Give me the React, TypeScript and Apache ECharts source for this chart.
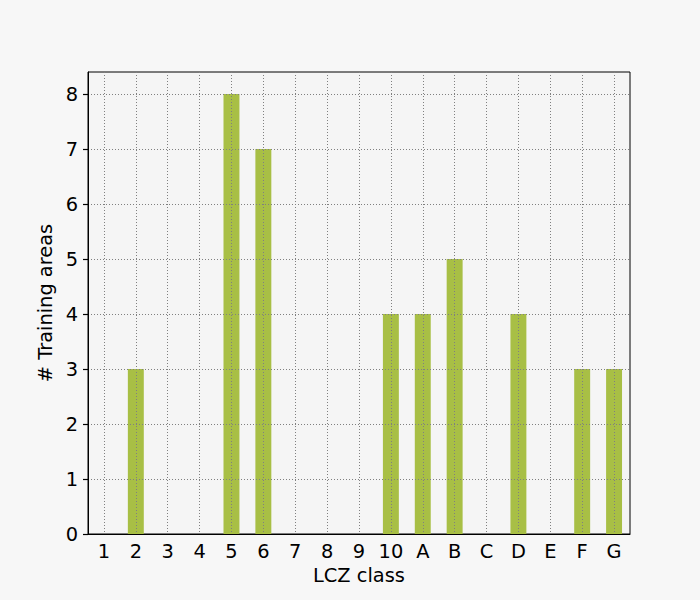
import React, { useEffect, useRef } from "react";
import * as echarts from "echarts";

const categories = ["1","2","3","4","5","6","7","8","9","10","A","B","C","D","E","F","G"];
const counts = [0,3,0,0,8,7,0,0,0,4,4,5,0,4,0,3,3];
const yTicks = [0,1,2,3,4,5,6,7,8];

export default function App() {
  const ref = useRef<HTMLDivElement>(null);
  useEffect(() => {
    if (!ref.current) return;
    const chart = echarts.init(ref.current, null, { renderer: "svg" });
    const font = "DejaVu Sans";
    const fs = 19.4;
    chart.setOption({
      animation: false,
      backgroundColor: "#f7f7f7",
      textStyle: { fontFamily: font },
      grid: {
        left: 88, right: 70, top: 72, bottom: 66,
        show: true, backgroundColor: "#f5f5f5", borderColor: "#000", borderWidth: 1,
      },
      xAxis: {
        type: "category",
        data: categories,
        z: 5,
        name: "LCZ class",
        nameLocation: "middle",
        nameGap: 32,
        nameTextStyle: { fontSize: fs, color: "#000", fontFamily: font },
        axisLine: { lineStyle: { color: "#000", width: 1 } },
        axisTick: { alignWithLabel: true, length: 5, lineStyle: { color: "#000", width: 1.2 } },
        axisLabel: { fontSize: fs, color: "#000", margin: 8, fontFamily: font, interval: 0 },
        splitLine: { show: true, alignWithLabel: true, interval: 0, lineStyle: { color: "#808080", type: [1, 2], width: 1 } },
      },
      yAxis: {
        type: "value",
        min: 0,
        max: 8.4,
        interval: 1,
        z: 5,
        name: "# Training areas",
        nameLocation: "middle",
        nameGap: 25,
        nameTextStyle: { fontSize: fs, color: "#000", fontFamily: font },
        axisLine: { show: true, lineStyle: { color: "#000", width: 1 } },
        axisTick: { show: true, length: 5, customValues: yTicks, lineStyle: { color: "#000", width: 1.2 } },
        axisLabel: {
          fontSize: fs, color: "#000", margin: 10, fontFamily: font,
          customValues: yTicks,
        },
        splitLine: { show: true, lineStyle: { color: "#808080", type: [1, 2], width: 1 } },
      },
      series: [
        {
          type: "bar",
          data: counts,
          barWidth: "50%",
          itemStyle: { color: "#a8bf45" },
          z: 2,
        },
      ],
    });
    return () => chart.dispose();
  }, []);
  return <div ref={ref} style={{ width: 700, height: 600, position: "absolute", left: 0, top: 0 }} />;
}
